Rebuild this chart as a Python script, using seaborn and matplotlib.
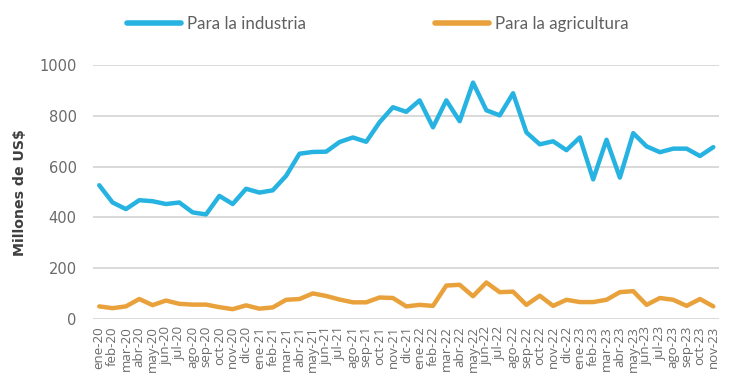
import matplotlib
matplotlib.use("Agg")
import matplotlib.pyplot as plt
import seaborn as sns
import pandas as pd

months = [
    "ene-20", "feb-20", "mar-20", "abr-20", "may-20", "jun-20", "jul-20", "ago-20", "sep-20", "oct-20", "nov-20", "dic-20",
    "ene-21", "feb-21", "mar-21", "abr-21", "may-21", "jun-21", "jul-21", "ago-21", "sep-21", "oct-21", "nov-21", "dic-21",
    "ene-22", "feb-22", "mar-22", "abr-22", "may-22", "jun-22", "jul-22", "ago-22", "sep-22", "oct-22", "nov-22", "dic-22",
    "ene-23", "feb-23", "mar-23", "abr-23", "may-23", "jun-23", "jul-23", "ago-23", "sep-23", "oct-23", "nov-23",
]

industria = [
    527, 459, 433, 468, 464, 453, 459, 420, 412, 485, 453, 513,
    498, 507, 564, 651, 658, 659, 697, 715, 698, 775, 834, 816,
    861, 755, 861, 779, 931, 822, 802, 889, 735, 688, 700, 665,
    715, 550, 706, 557, 732, 680, 657, 671, 671, 642, 677,
]

agricultura = [
    50, 43, 50, 79, 55, 73, 60, 57, 57, 47, 39, 54,
    41, 46, 76, 79, 101, 91, 77, 66, 66, 85, 83, 50,
    56, 52, 132, 135, 90, 144, 106, 108, 56, 92, 52, 76,
    67, 67, 76, 106, 110, 56, 83, 76, 52, 79, 50,
]

series_names = ["Para la industria", "Para la agricultura"]
colors = ["#27B3E2", "#E9A23B"]

x_idx = list(range(len(months)))
df = pd.DataFrame({
    "x": x_idx * 2,
    "valor": industria + agricultura,
    "serie": [series_names[0]] * len(months) + [series_names[1]] * len(months),
})

sns.set_style("white")
plt.rcParams["font.family"] = ["DejaVu Sans"]

fig = plt.figure(figsize=(7.34, 3.92), dpi=100)
ax = fig.add_axes([0.127, 0.186, 0.853, 0.648])

sns.lineplot(data=df, x="x", y="valor", hue="serie", palette=colors,
             linewidth=3.2, ax=ax, legend=False, solid_capstyle="round",
             solid_joinstyle="round")

ax.set_xlim(-0.45, len(months) - 1 + 0.45)
ax.set_ylim(0, 1000)
ax.set_yticks([0, 200, 400, 600, 800, 1000])
ax.set_xticks(x_idx)
ax.set_xticklabels(months, rotation=90, color="#6a6a6a",
                   fontdict={"family": ["Open Sans", "DejaVu Sans"], "size": 9.5})
ax.tick_params(axis="y", labelsize=10.5, colors="#6a6a6a", length=0, pad=12)
ax.tick_params(axis="x", length=0, pad=5)
ax.yaxis.grid(True, color="#d9d9d9", linewidth=1.4)
ax.set_axisbelow(True)
for s in ax.spines.values():
    s.set_visible(False)

ax.set_xlabel("")
ax.set_ylabel("Millones de US$", fontsize=10.2, fontweight="bold", color="#3f3f3f", labelpad=9)

handles = [plt.Line2D([], [], color=c, linewidth=4, solid_capstyle="round") for c in colors]
fig.legend(handles, series_names, loc="center", bbox_to_anchor=(0.515, 0.938),
           ncol=2, frameon=False, handlelength=3.2, handletextpad=0.35,
           columnspacing=7.6, labelcolor="#606060",
           prop={"family": ["Lato", "DejaVu Sans"], "size": 12.2})

fig.savefig("out.png", dpi=100)
